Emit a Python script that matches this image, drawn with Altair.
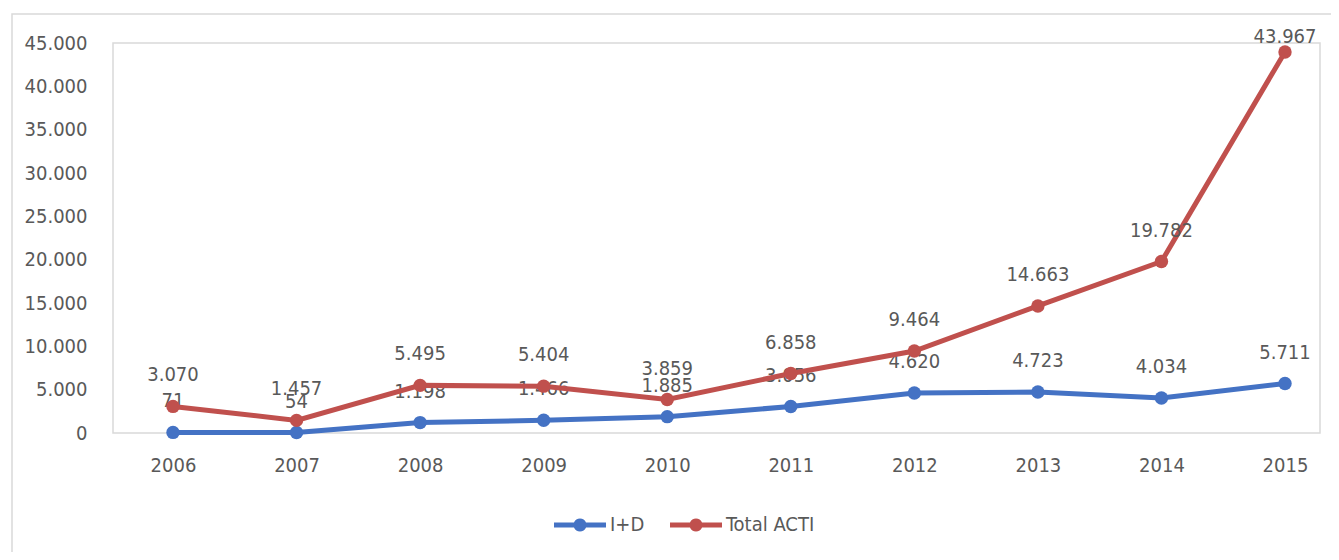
import altair as alt
import pandas as pd

years = ["2006", "2007", "2008", "2009", "2010", "2011", "2012", "2013", "2014", "2015"]
id_values = [71, 54, 1198, 1466, 1885, 3056, 4620, 4723, 4034, 5711]
acti_values = [3070, 1457, 5495, 5404, 3859, 6858, 9464, 14663, 19782, 43967]
series_names = ["I+D", "Total ACTI"]
series_colors = ["#4472C4", "#C0504D"]
y_ticks = [0, 5000, 10000, 15000, 20000, 25000, 30000, 35000, 40000, 45000]

df = pd.concat([
    pd.DataFrame({"year": years, "value": id_values, "series": series_names[0]}),
    pd.DataFrame({"year": years, "value": acti_values, "series": series_names[1]}),
])

FONT = "Liberation Sans Narrow, DejaVu Sans Condensed, sans-serif"
GREY = "#595959"
FS = 20

x_enc = alt.X("year:N", sort=years,
              scale=alt.Scale(type="point", range=[60, 1172], padding=0),
              axis=alt.Axis(title=None, ticks=False, domain=False, labelPadding=22, labelAngle=0))
y_enc = alt.Y("value:Q", scale=alt.Scale(domain=[0, 45000], nice=False),
              axis=alt.Axis(title=None, values=y_ticks, ticks=False, domain=False, grid=False,
                            labelPadding=26,
                            labelExpr="replace(format(datum.value, ','), ',', '.')"))
color_scale = alt.Scale(domain=series_names, range=series_colors)

legend_path = ("M-2,-0.19L-0.4625,-0.19A0.5,0.5 0 0 1 0.4625,-0.19L2,-0.19L2,0.19"
               "L0.4625,0.19A0.5,0.5 0 0 1 -0.4625,0.19L-2,0.19Z")
legend = alt.Legend(title=None, orient="none", legendX=454, legendY=469,
                    direction="horizontal", symbolType=legend_path,
                    symbolSize=676, symbolStrokeWidth=0, symbolOpacity=1,
                    labelOffset=17, columnPadding=25,
                    labelFontSize=FS, labelColor=GREY, labelFont=FONT)
color_enc = alt.Color("series:N", scale=color_scale, legend=legend)

base = alt.Chart(df)

frame = alt.Chart(pd.DataFrame({"a": [0]})).mark_rect(
    fill=None, stroke="#D9D9D9", strokeWidth=1.5
).encode(x=alt.value(-101), x2=alt.value(1500), y=alt.value(-29), y2=alt.value(800))

layers = [frame]
for i, s in enumerate(series_names):
    sb = base.transform_filter(alt.datum.series == s)
    line = sb.mark_line(strokeWidth=5).encode(x=x_enc, y=y_enc, color=color_enc)
    pts = sb.mark_point(filled=True, size=180, opacity=1).encode(
        x=x_enc, y=y_enc, color=color_enc)
    lab_base = sb.transform_calculate(
        label="replace(format(datum.value, ','), ',', '.')"
    )
    labels_normal = lab_base.transform_filter(alt.datum.value <= 40000).mark_text(
        fontSize=FS, font=FONT, color=GREY, baseline="alphabetic", align="center", dy=-25
    ).encode(x=x_enc, y=y_enc, text="label:N")
    labels_top = lab_base.transform_filter(alt.datum.value > 40000).mark_text(
        fontSize=FS, font=FONT, color=GREY, baseline="alphabetic", align="center", dy=-9
    ).encode(x=x_enc, y=y_enc, text="label:N")
    layers += [line, pts, labels_normal, labels_top]

chart = alt.layer(*layers).properties(
    width=1207, height=390,
    autosize=alt.AutoSizeParams(type="none"),
    padding={"left": 105, "top": 35, "right": 11, "bottom": 119},
).configure_view(stroke="#D9D9D9", strokeWidth=1.5).configure_axis(
    labelFont=FONT, labelFontSize=FS, labelColor=GREY
).configure_legend(labelFont=FONT)

chart.save("out.html", embed_options={"renderer": "svg", "actions": False})
